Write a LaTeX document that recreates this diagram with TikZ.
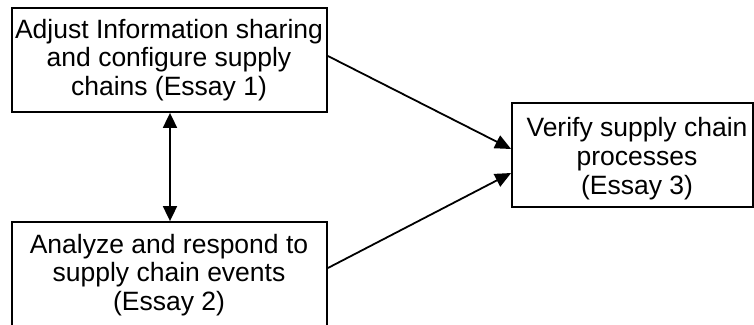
\documentclass[tikz,border=0pt]{standalone}
\usepackage{fontspec}
\setmainfont{Liberation Sans}
\usetikzlibrary{arrows.meta}
\begin{document}
\begin{tikzpicture}[x=1pt,y=-1pt,
  essaybox/.style={draw, line width=1.8pt, inner sep=0pt},
  boxtext/.style={align=center, inner sep=0pt,
    font=\fontsize{26.5}{28.8}\selectfont},
  link/.style={line width=1.8pt, -{Triangle[length=16pt,width=14pt]}},
  twoway/.style={line width=1.8pt, {Triangle[length=15pt,width=14pt]}-{Triangle[length=15pt,width=14pt]}}]
\useasboundingbox (0,0) rectangle (754,324);

% essay boxes
\node[essaybox, minimum width=315pt, minimum height=104pt] (b1) at (169.5,60) {};
\node[essaybox, minimum width=315pt, minimum height=106pt] (b2) at (169.5,275) {};
\node[essaybox, minimum width=241pt, minimum height=104pt] (b3) at (632.5,155) {};

% box labels
\node[boxtext] (t1) at (169,60) {Adjust Information sharing\\and configure supply\\chains (Essay 1)};
\node[boxtext] (t2) at (169,275) {Analyze and respond to\\supply chain events\\(Essay 2)};
\node[boxtext] (t3) at (637,158.5) {Verify supply chain\\processes\\(Essay 3)};

% connectors
\draw[twoway] (b1.south -| 170,0) -- (b2.north -| 170,0);
\draw[link] ([yshift=4pt]b1.east) -- ([yshift=6pt]b3.west);
\draw[link] ([yshift=7pt]b2.east) -- ([yshift=-18pt]b3.west);
\end{tikzpicture}
\end{document}
